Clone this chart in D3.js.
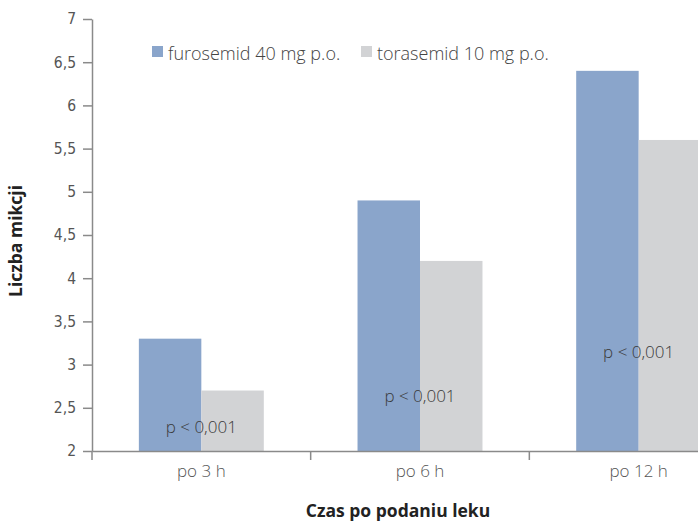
<!DOCTYPE html>
<html><head><meta charset="utf-8">
<script src="https://cdn.jsdelivr.net/npm/d3@7"></script>
<style>
body{margin:0;background:#fff;}
svg{display:block;}
</style></head>
<body><svg id="c" width="698" height="523"></svg>
<script>
const categories = ["po 3 h", "po 6 h", "po 12 h"];
const seriesNames = ["furosemid 40 mg p.o.", "torasemid 10 mg p.o."];
const furosemid = [3.3, 4.9, 6.4];
const torasemid = [2.7, 4.2, 5.6];
const pLabels = ["p < 0,001", "p < 0,001", "p < 0,001"];
const pLabelY = [2.21, 2.57, 3.08];
const yTicks = [2, 2.5, 3, 3.5, 4, 4.5, 5, 5.5, 6, 6.5, 7];
const colors = ["#8aa5cb", "#d2d3d5"];

const svg = d3.select("#c");
const x = d3.scaleBand().domain(categories).range([92, 748]).paddingInner(0).paddingOuter(0);
const x1 = d3.scaleBand().domain(seriesNames).range([0, x.bandwidth()]).paddingInner(0).paddingOuter(0.75);
const y = d3.scaleLinear().domain([2, 7]).range([451, 19]);
const values = [furosemid, torasemid];
const axisColor = "#8a8a8a";
const tickFont = "'Liberation Sans Narrow','DejaVu Sans Condensed',sans-serif";
const textFont = "'Open Sans','Noto Sans',sans-serif";

// bars
seriesNames.forEach((s, si) => {
  svg.append("g").selectAll("rect").data(categories).join("rect")
    .attr("x", c => x(c) + x1(s))
    .attr("y", (c, i) => y(values[si][i]))
    .attr("width", x1.bandwidth())
    .attr("height", (c, i) => y(2) - y(values[si][i]))
    .attr("fill", colors[si]);
});

// y axis
const yAxis = svg.append("g").attr("transform", "translate(92,0)")
  .call(d3.axisLeft(y).tickValues(yTicks).tickSize(9).tickSizeOuter(0)
    .tickFormat(d => String(d).replace(".", ",")));
yAxis.select(".domain").attr("stroke", axisColor).attr("stroke-width", 1.5);
yAxis.selectAll(".tick line").attr("stroke", axisColor).attr("stroke-width", 1.5);
yAxis.selectAll(".tick text").attr("x", -16).attr("fill", "#555")
  .style("font-family", tickFont).style("font-size", "15.5px");

// x axis
const xAxis = svg.append("g").attr("transform", "translate(0,451)")
  .call(d3.axisBottom(x).tickSize(0).tickSizeOuter(0));
xAxis.select(".domain").attr("stroke", axisColor).attr("stroke-width", 1.5);
xAxis.selectAll(".tick text").attr("dy", 0).attr("y", 26).attr("fill", "#555")
  .style("font-family", textFont).style("font-weight", 300).style("font-size", "17px");
svg.append("g").selectAll("line").data(categories).join("line")
  .attr("x1", c => x(c)).attr("x2", c => x(c))
  .attr("y1", 451).attr("y2", 460)
  .attr("stroke", axisColor).attr("stroke-width", 1.5);

// p labels
svg.append("g").selectAll("text").data(categories).join("text")
  .attr("x", c => x(c) + x.bandwidth() / 2)
  .attr("y", (c, i) => y(pLabelY[i]))
  .attr("text-anchor", "middle")
  .attr("fill", "#3a3a3a")
  .style("font-family", textFont).style("font-weight", 300).style("font-size", "17px")
  .text((c, i) => pLabels[i]);

// legend
const legendX = [152, 361];
seriesNames.forEach((s, si) => {
  svg.append("rect").attr("x", legendX[si]).attr("y", 46).attr("width", 11).attr("height", 11).attr("fill", colors[si]);
  svg.append("text").attr("x", legendX[si] + 16).attr("y", 60)
    .attr("fill", "#444")
    .style("font-family", textFont).style("font-weight", 300).style("font-size", "18px")
    .text(s);
});

// axis titles
svg.append("text").attr("transform", "translate(22,241) rotate(-90)")
  .attr("text-anchor", "middle").attr("fill", "#222")
  .style("font-family", textFont).style("font-weight", 700).style("font-size", "17.5px")
  .text("Liczba mikcji");
svg.append("text").attr("x", 398).attr("y", 517)
  .attr("text-anchor", "middle").attr("fill", "#222")
  .style("font-family", textFont).style("font-weight", 700).style("font-size", "17.5px")
  .text("Czas po podaniu leku");
</script></body></html>
